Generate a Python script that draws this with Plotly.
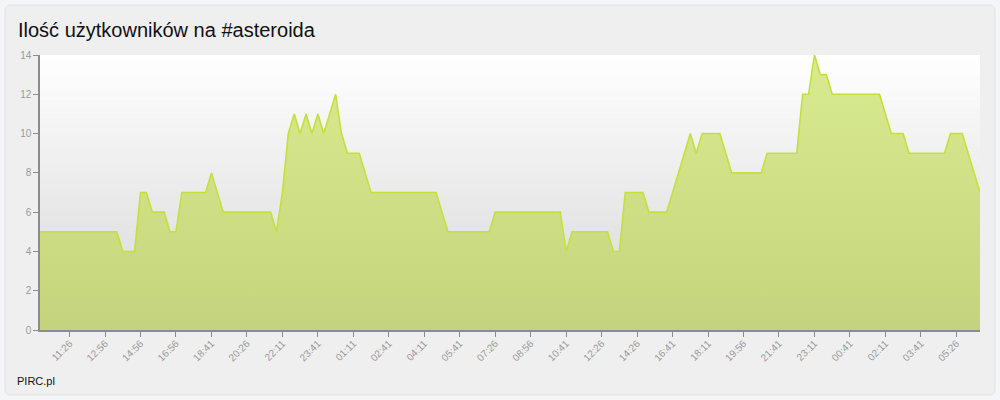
import plotly.graph_objects as go

title_text = "Ilość użytkowników na #asteroida"
credit_text = "PIRC.pl"

# users per sample (160 samples)
users = [
    5, 5, 5, 5, 5, 5, 5, 5, 5, 5, 5, 5, 5, 5,
    4, 4, 4,
    7, 7,
    6, 6, 6,
    5, 5,
    7, 7, 7, 7, 7,
    8, 7,
    6, 6, 6, 6, 6, 6, 6, 6, 6,
    5, 7, 10, 11, 10, 11, 10, 11, 10, 11, 12, 10,
    9, 9, 9,
    8,
    7, 7, 7, 7, 7, 7, 7, 7, 7, 7, 7, 7,
    6,
    5, 5, 5, 5, 5, 5, 5, 5,
    6, 6, 6, 6, 6, 6, 6, 6, 6, 6, 6, 6,
    4,
    5, 5, 5, 5, 5, 5, 5,
    4, 4,
    7, 7, 7, 7,
    6, 6, 6, 6,
    7, 8, 9, 10, 9,
    10, 10, 10, 10,
    9,
    8, 8, 8, 8, 8, 8,
    9, 9, 9, 9, 9, 9,
    12, 12, 14, 13, 13,
    12, 12, 12, 12, 12, 12, 12, 12, 12,
    11,
    10, 10, 10,
    9, 9, 9, 9, 9, 9, 9,
    10, 10, 10,
    9, 8, 7,
]
sample_index = list(range(len(users)))

tick_labels = ["11:26", "12:56", "14:56", "16:56", "18:41", "20:26", "22:11",
               "23:41", "01:11", "02:41", "04:11", "05:41", "07:26", "08:56",
               "10:41", "12:26", "14:26", "16:41", "18:11", "19:56", "21:41",
               "23:11", "00:41", "02:11", "03:41", "05:26"]
tick_first = 5
tick_step = 6
tick_positions = [tick_first + k * tick_step for k in range(len(tick_labels))]

y_ticks = [0, 2, 4, 6, 8, 10, 12, 14]

W, H = 1000, 400
ml, mr, mt, mb = 40, 20, 55, 70
pw, ph = W - ml - mr, H - mt - mb

def px_to_paper_x(px):
    return (px - ml) / pw

def px_to_paper_y(py):
    return (H - mb - py) / ph

fig = go.Figure()

fig.add_trace(go.Scatter(
    x=sample_index, y=users, mode="lines",
    line=dict(color="#c3e03c", width=1.6),
    fill="tozeroy",
    fillgradient=dict(type="vertical",
                      colorscale=[[0, "#c4d47c"], [1, "#d9eb8f"]]),
    hoverinfo="x+y", showlegend=False,
))

shapes = []
# container box with rounded corners
x0, x1 = px_to_paper_x(5), px_to_paper_x(995)
y0, y1 = px_to_paper_y(395), px_to_paper_y(5)
rx, ry = 6 / pw, 6 / ph
path = (f"M {x0+rx},{y1} L {x1-rx},{y1} Q {x1},{y1} {x1},{y1-ry} "
        f"L {x1},{y0+ry} Q {x1},{y0} {x1-rx},{y0} "
        f"L {x0+rx},{y0} Q {x0},{y0} {x0},{y0+ry} "
        f"L {x0},{y1-ry} Q {x0},{y1} {x0+rx},{y1} Z")
shapes.append(dict(type="path", path=path, xref="paper", yref="paper",
                   fillcolor="#efefef", line=dict(color="#e2e3e6", width=1),
                   layer="below"))

# plot-area vertical gradient (white to light grey)
nb = 60
top_c = (255, 255, 255)
bot_c = (214, 214, 214)
for k in range(nb):
    t = (k + 0.5) / nb
    c = tuple(round(top_c[j] + (bot_c[j] - top_c[j]) * t) for j in range(3))
    shapes.append(dict(type="rect", xref="x domain", yref="y domain",
                       x0=0, x1=1, y0=1 - (k + 1) / nb - 0.002, y1=1 - k / nb,
                       fillcolor=f"rgb{c}", line=dict(width=0), layer="below"))

fig.update_layout(
    width=W, height=H,
    margin=dict(l=ml, r=mr, t=mt, b=mb),
    paper_bgcolor="#f4f5f8",
    plot_bgcolor="rgba(0,0,0,0)",
    shapes=shapes,
    title=dict(text=title_text, x=18 / W, xref="container", xanchor="left",
               y=1 - 30 / H, yref="container", yanchor="middle",
               font=dict(family="Liberation Sans, Arial, sans-serif",
                         size=20, color="#111")),
    font=dict(family="Liberation Sans, Arial, sans-serif"),
    annotations=[dict(text=credit_text, xref="paper", yref="paper",
                      x=px_to_paper_x(15), y=px_to_paper_y(381),
                      xanchor="left", yanchor="middle", showarrow=False,
                      font=dict(size=11, color="#111"))],
)

fig.update_xaxes(
    range=[0, len(users) - 1], showgrid=False, zeroline=False,
    showline=True, linecolor="#8c8c8c", linewidth=1.5,
    tickmode="array", tickvals=tick_positions, ticktext=tick_labels,
    ticks="outside", ticklen=5, tickcolor="#8c8c8c", tickangle=-45,
    ticklabelstandoff=-3,
    tickfont=dict(size=10, color="#9a9a9a"),
)
fig.update_yaxes(
    range=[0, 14], showgrid=False, zeroline=False,
    showline=True, linecolor="#8c8c8c", linewidth=1.5,
    tickmode="array", tickvals=y_ticks,
    ticks="outside", ticklen=5, tickcolor="#8c8c8c",
    tickfont=dict(size=10, color="#9a9a9a"),
)

fig.write_html("out.html",
               config={"displayModeBar": False},
               post_script="document.body.style.margin='0';"
                           "document.body.style.overflow='hidden';")
